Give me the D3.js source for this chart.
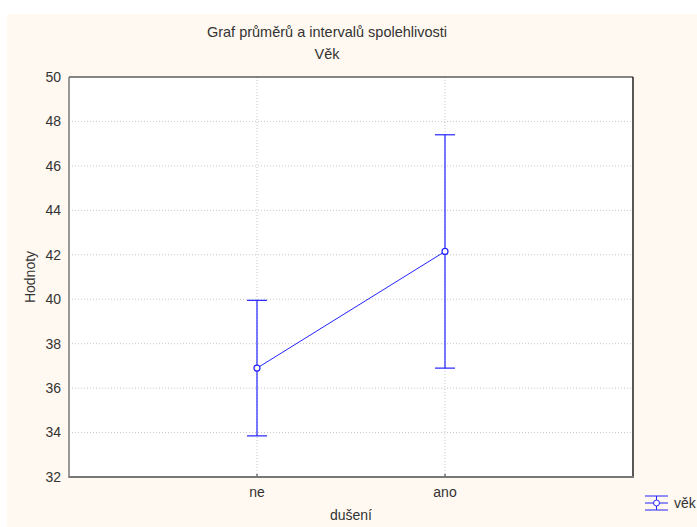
<!DOCTYPE html>
<html>
<head>
<meta charset="utf-8">
<script src="https://cdn.jsdelivr.net/npm/d3@7"></script>
<style>
  body { margin: 0; background: #fff; }
  text { font-family: "Liberation Sans", Arial, sans-serif; fill: #333; }
</style>
</head>
<body>
<div id="chart"></div>
<script>
// data
const categories = ["ne", "ano"];
const means = [36.9, 42.15];
const upper = [39.95, 47.4];
const lower = [33.85, 36.9];
const yTicks = [32, 34, 36, 38, 40, 42, 44, 46, 48, 50];

const W = 697, H = 527;
const margin = { top: 77, right: 64, bottom: 50, left: 69 };
const width = W - margin.left - margin.right;
const height = H - margin.top - margin.bottom;

const svg = d3.select("#chart").append("svg")
    .attr("width", W)
    .attr("height", H);

// cream background panel
svg.append("rect")
    .attr("x", 7).attr("y", 14)
    .attr("width", W - 7).attr("height", H - 14)
    .attr("fill", "#fff9f1");

const g = svg.append("g")
    .attr("transform", "translate(" + margin.left + "," + margin.top + ")");

g.append("rect")
    .attr("width", width).attr("height", height)
    .attr("fill", "#fff");

const x = d3.scalePoint().domain(categories).range([0, width]).padding(1);
const y = d3.scaleLinear().domain([32, 50]).range([height, 0]);

// grid
g.selectAll(".hgrid").data(yTicks.slice(1, -1)).enter().append("line")
    .attr("x1", 0).attr("x2", width)
    .attr("y1", d => y(d)).attr("y2", d => y(d))
    .attr("stroke", "#c8c8c8").attr("stroke-dasharray", "1,2");
g.selectAll(".vgrid").data(categories).enter().append("line")
    .attr("x1", d => x(d)).attr("x2", d => x(d))
    .attr("y1", 0).attr("y2", height)
    .attr("stroke", "#c8c8c8").attr("stroke-dasharray", "1,2");

// y tick labels
g.selectAll(".ylab").data(yTicks).enter().append("text")
    .attr("x", -8).attr("y", d => y(d))
    .attr("dy", "0.35em")
    .attr("text-anchor", "end")
    .attr("font-size", "14px")
    .text(d => d);

// x tick marks + labels
g.selectAll(".xtick").data(categories).enter().append("line")
    .attr("x1", d => x(d)).attr("x2", d => x(d))
    .attr("y1", height - 3).attr("y2", height)
    .attr("stroke", "#222");
g.selectAll(".xlab").data(categories).enter().append("text")
    .attr("x", d => x(d)).attr("y", height + 20)
    .attr("text-anchor", "middle")
    .attr("font-size", "14px")
    .text(d => d);

// frame
g.append("line").attr("x1", 0).attr("x2", width).attr("y1", 0).attr("y2", 0)
    .attr("stroke", "#111").attr("stroke-width", 1.2);
g.append("line").attr("x1", width).attr("x2", width).attr("y1", 0).attr("y2", height)
    .attr("stroke", "#222").attr("stroke-width", 1.5);
g.append("line").attr("x1", 0).attr("x2", 0).attr("y1", 0).attr("y2", height + 1)
    .attr("stroke", "#777").attr("stroke-width", 1.5);
g.append("line").attr("x1", 0).attr("x2", width + 1).attr("y1", height).attr("y2", height)
    .attr("stroke", "#777").attr("stroke-width", 2);

const blue = "#2323ff";
const pts = categories.map((c, i) => ({ c: c, m: means[i], lo: lower[i], hi: upper[i] }));

// error bars
g.selectAll(".err").data(pts).enter().append("line")
    .attr("x1", d => x(d.c)).attr("x2", d => x(d.c))
    .attr("y1", d => y(d.lo)).attr("y2", d => y(d.hi))
    .attr("stroke", blue).attr("stroke-width", 1.2);
["lo", "hi"].forEach(k => {
    g.selectAll(".cap" + k).data(pts).enter().append("line")
        .attr("x1", d => x(d.c) - 10).attr("x2", d => x(d.c) + 10)
        .attr("y1", d => y(d[k])).attr("y2", d => y(d[k]))
        .attr("stroke", blue).attr("stroke-width", 1.2);
});

// mean line
g.append("path").datum(pts)
    .attr("fill", "none").attr("stroke", blue).attr("stroke-width", 1)
    .attr("d", d3.line().x(d => x(d.c)).y(d => y(d.m)));

g.selectAll(".pt").data(pts).enter().append("circle")
    .attr("cx", d => x(d.c)).attr("cy", d => y(d.m))
    .attr("r", 3)
    .attr("fill", "#fff").attr("stroke", blue).attr("stroke-width", 1.2);

// titles
svg.append("text").attr("x", 327).attr("y", 37)
    .attr("text-anchor", "middle").attr("font-size", "14.5px")
    .text("Graf průměrů a intervalů spolehlivosti");
svg.append("text").attr("x", 327).attr("y", 59)
    .attr("text-anchor", "middle").attr("font-size", "14.5px")
    .text("Věk");

// axis titles
svg.append("text")
    .attr("transform", "translate(35," + (margin.top + height / 2) + ") rotate(-90)")
    .attr("text-anchor", "middle").attr("font-size", "14px")
    .text("Hodnoty");
svg.append("text").attr("x", 351).attr("y", 520)
    .attr("text-anchor", "middle").attr("font-size", "14px")
    .text("dušení");

// legend
const lg = svg.append("g").attr("transform", "translate(645,503)");
lg.append("line").attr("x1", 0).attr("x2", 23).attr("y1", -7).attr("y2", -7).attr("stroke", blue);
lg.append("line").attr("x1", 0).attr("x2", 23).attr("y1", 7).attr("y2", 7).attr("stroke", blue);
lg.append("line").attr("x1", 11.5).attr("x2", 11.5).attr("y1", -7).attr("y2", 7).attr("stroke", blue);
lg.append("line").attr("x1", 0).attr("x2", 23).attr("y1", 0).attr("y2", 0).attr("stroke", blue);
lg.append("circle").attr("cx", 11.5).attr("cy", 0).attr("r", 3)
    .attr("fill", "#fff").attr("stroke", blue);
lg.append("text").attr("x", 29).attr("y", 0).attr("dy", "0.35em")
    .attr("font-size", "14px").text("věk");
</script>
</body>
</html>
